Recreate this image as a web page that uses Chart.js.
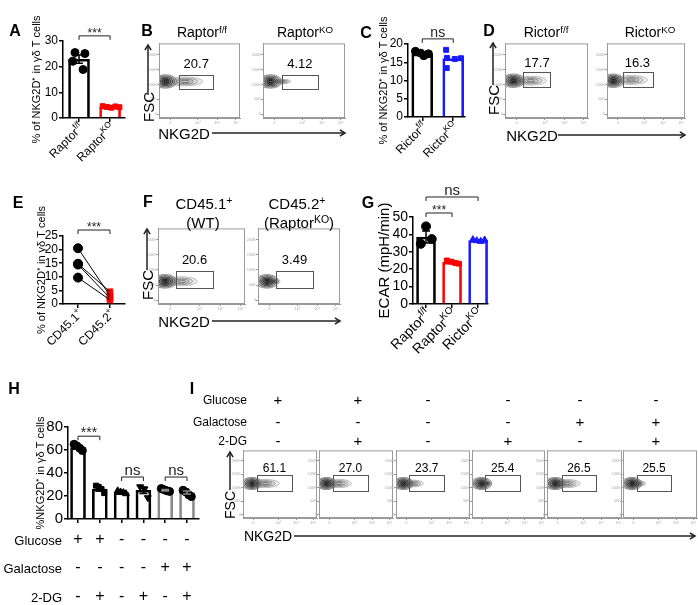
<!DOCTYPE html>
<html>
<head>
<meta charset="utf-8">
<script src="https://cdn.jsdelivr.net/npm/chart.js@4.4.1/dist/chart.umd.min.js"></script>
<style>
body { margin: 0; background: #fff; }
#fig { position: relative; width: 698px; height: 605px; overflow: hidden; font-family: 'Liberation Sans', Arial, sans-serif; color: #000; }
#fig canvas { position: absolute; }
.t { position: absolute; white-space: nowrap; line-height: 1; }
.t sup { font-size: 70%; vertical-align: 0.45em; line-height: 0; }
.l { font-weight: bold; }
#fig svg { position: absolute; left: 0; top: 0; }
</style>
</head>
<body>
<div id="fig"></div>
<script>
const FONT = "'Liberation Sans', Arial, sans-serif";
Chart.defaults.font.family = FONT;
Chart.defaults.color = '#000';
Chart.defaults.animation = false;

// ---------- A: NKG2D+ in Raptor f/f vs KO
const aCats = [0, 1];
const aLabels = [['Raptor', 'f/f'], ['Raptor', 'KO']];
const aMeans = [22.9, 4.3];
const aSem = [1.6, 0.3];
const aFlox = [25.5, 25.1, 22.1, 18.9];
const aFloxJit = [-0.13, 0.19, -0.2, 0.13];
const aKo = [4.6, 4.3, 4.0, 4.5, 4.2];
const aKoJit = [-0.24, -0.1, 0.04, 0.17, 0.3];

// ---------- C: Rictor
const cCats = [0, 1];
const cLabels = [['Rictor', 'f/f'], ['Rictor', 'KO']];
const cMeans = [17.3, 16.0];
const cFlox = [18.0, 17.5, 16.8, 17.3];
const cFloxJit = [-0.22, -0.05, 0.05, 0.2];
const cKo = [18.4, 16.2, 13.4, 15.9, 16.1];
const cKoJit = [-0.23, -0.2, -0.21, 0.05, 0.25];

// ---------- E: paired CD45.1 / CD45.2
const eCats = [0, 1];
const eLabels = [['CD45.1', '+'], ['CD45.2', '+']];
const eCd451 = [20.5, 14.8, 14.5, 9.7];
const eCd452 = [3.0, 4.5, 2.2, 1.5];

// ---------- G: ECAR
const gCats = [0, 1, 2];
const gLabels = [['Raptor', 'f/f'], ['Raptor', 'KO'], ['Rictor', 'KO']];
const gMeans = [38.5, 24.0, 36.5];
const gSem = [3.5, 0.6, 0.4];
const gFlox = [44.6, 37.3, 34.6];
const gFloxJit = [0, 0.22, -0.2];
const gRaptorKo = [25.0, 24.3, 23.6, 23.2];
const gRaptorKoJit = [-0.2, -0.02, 0.12, 0.26];
const gRictorKo = [37.0, 36.4, 36.0, 36.8];
const gRictorKoJit = [-0.2, -0.05, 0.1, 0.25];

// ---------- H: sugar conditions
const hCats = [0, 1, 2, 3, 4, 5];
const hMeans = [62, 26, 23, 25, 25, 23];
const hSem = [1.3, 1.6, 0.6, 2.8, 0.6, 1.3];
const hG1 = [65, 63.5, 61.5, 59.5];
const hG2 = [29, 28, 26, 22.5];
const hG3 = [24.5, 23.5, 23, 22];
const hG4 = [28, 26, 18.5];
const hG5 = [26.5, 25.5, 24.5, 24];
const hG6 = [25, 23.5, 21, 19.5];
const hJit4 = [-0.18, -0.05, 0.08, 0.2];
const hJit3 = [-0.15, 0.05, 0.2];
const hGlucose = ['+', '+', '-', '-', '-', '-'];
const hGalactose = ['-', '-', '-', '-', '+', '+'];
const h2dg = ['-', '+', '-', '+', '-', '+'];

// ---------- flow plots (axis units 0-100)
const flowXTicks = [14, 48, 72, 95];
const flowXTickText = ['0', '10³', '10⁴', '10⁵'];
const flowYTicks = [5, 25, 45, 65, 85];
const flowYTickText = ['0', '50K', '100K', '150K', '200K'];

const bValues = ['20.7', '4.12'];
const bCores = [[8, 49], [9, 49]];
const bTails = [[32, 49, 22, 6], [24, 49, 10, 3]];
const bGates = [[25, 67, 39, 58], [23, 67, 39, 58]];

const dValues = ['17.7', '16.3'];
const dCores = [[10, 50], [8, 50]];
const dTails = [[31, 50, 19, 6], [31, 51, 21, 6]];
const dGates = [[22, 55, 42, 62], [20, 58, 42, 62]];

const fValues = ['20.6', '3.49'];
const fCores = [[8, 30], [11, 30]];
const fTails = [[27, 30, 18, 6], [20, 30, 7, 3]];
const fGates = [[21, 63, 21, 43], [22, 67, 21, 43]];

const iValues = ['61.1', '27.0', '23.7', '25.4', '26.5', '25.5'];
const iCores = [[12, 51], [10, 51], [10, 51], [13, 51], [11, 51], [12, 51]];
const iTails = [[30, 51, 19, 6], [27, 51, 17, 6], [24, 51, 13, 5], [20, 51, 7, 3], [27, 51, 17, 6], [21, 51, 10, 4]];
const iGates = [[19, 66, 41, 64], [19, 66, 41, 64], [18, 65, 41, 64], [18, 66, 41, 64], [20, 65, 41, 64], [19, 65, 41, 64]];
const iGlucose = ['+', '+', '-', '-', '-', '-'];
const iGalactose = ['-', '-', '-', '-', '+', '+'];
const i2dg = ['-', '+', '-', '+', '-', '+'];

const fig = document.getElementById('fig');

function makeCanvas(left, top, w, h) {
  const c = document.createElement('canvas');
  c.width = w; c.height = h;
  c.style.left = left + 'px'; c.style.top = top + 'px';
  c.style.width = w + 'px'; c.style.height = h + 'px';
  fig.appendChild(c);
  return c;
}

function txt(html, x, y, size, cls, rot, align) {
  const d = document.createElement('div');
  d.className = 't ' + (cls || '');
  d.innerHTML = html;
  d.style.left = x + 'px'; d.style.top = y + 'px'; d.style.fontSize = size + 'px';
  let tr = align === 'right' ? 'translate(-100%,-50%)' : 'translate(-50%,-50%)';
  if (rot) tr += ' rotate(' + rot + 'deg)';
  d.style.transform = tr;
  fig.appendChild(d);
}

function pts(cat, jit, vals, style, color, r, rot) {
  return {
    type: 'scatter', order: 0,
    data: vals.map((v, i) => ({ x: cat + jit[i], y: v })),
    pointStyle: style, pointRadius: r, pointRotation: rot || 0,
    pointBackgroundColor: color, pointBorderColor: color, pointBorderWidth: 1
  };
}

function barSet(cats, means, colors, thick) {
  return {
    type: 'bar', order: 5,
    data: means.map((m, i) => ({ x: cats[i], y: m })),
    backgroundColor: 'rgba(255,255,255,0)', borderColor: colors,
    borderWidth: 2, barThickness: thick
  };
}

// error bars, significance brackets, rotated category labels, sign rows
function decor(d) {
  return {
    id: 'decor',
    afterDatasetsDraw(chart) {
      const ctx = chart.ctx, xs = chart.scales.x, ys = chart.scales.y, ca = chart.chartArea;
      ctx.save();
      if (d.sem) d.sem.forEach((s, i) => {
        const x = xs.getPixelForValue(d.cats[i]);
        const y1 = ys.getPixelForValue(d.means[i] - s), y2 = ys.getPixelForValue(d.means[i] + s);
        ctx.strokeStyle = d.colors[i]; ctx.lineWidth = 1.5;
        ctx.beginPath();
        ctx.moveTo(x, y1); ctx.lineTo(x, y2);
        ctx.moveTo(x - 4, y1); ctx.lineTo(x + 4, y1);
        ctx.moveTo(x - 4, y2); ctx.lineTo(x + 4, y2);
        ctx.stroke();
      });
      (d.brackets || []).forEach(b => {
        const x1 = xs.getPixelForValue(b[0]), x2 = xs.getPixelForValue(b[1]), y = ys.getPixelForValue(b[2]);
        ctx.strokeStyle = '#222'; ctx.lineWidth = 1;
        ctx.beginPath();
        ctx.moveTo(x1, y + 4); ctx.lineTo(x1, y); ctx.lineTo(x2, y); ctx.lineTo(x2, y + 4);
        ctx.stroke();
        ctx.fillStyle = '#222';
        ctx.font = (b[3] === 'ns' ? d.nsSize : d.starSize) + 'px ' + FONT;
        ctx.textAlign = 'center'; ctx.textBaseline = 'alphabetic';
        ctx.fillText(b[3], (x1 + x2) / 2, y - (b[3] === 'ns' ? 2 : -1));
      });
      (d.labels || []).forEach((lab, i) => {
        const x = xs.getPixelForValue(d.cats[i]);
        ctx.save();
        ctx.translate(x + 3, ca.bottom + 8);
        ctx.rotate(-Math.PI / 4);
        ctx.fillStyle = '#000'; ctx.textBaseline = 'middle'; ctx.textAlign = 'left';
        ctx.font = (d.labelSize * 0.7) + 'px ' + FONT;
        const ws = ctx.measureText(lab[1]).width;
        ctx.font = d.labelSize + 'px ' + FONT;
        const wm = ctx.measureText(lab[0]).width;
        ctx.fillText(lab[0], -wm - ws, 0);
        ctx.font = (d.labelSize * 0.7) + 'px ' + FONT;
        ctx.fillText(lab[1], -ws, -d.labelSize * 0.35);
        ctx.restore();
      });
      (d.rows || []).forEach(r => {
        ctx.fillStyle = '#000'; ctx.textBaseline = 'middle';
        ctx.font = d.rowNameSize + 'px ' + FONT; ctx.textAlign = 'right';
        ctx.fillText(r.name, d.rowNameX, r.y);
        ctx.font = d.signSize + 'px ' + FONT; ctx.textAlign = 'center';
        r.signs.forEach((s, i) => ctx.fillText(s, xs.getPixelForValue(d.cats[i]), r.y - 1));
      });
      ctx.restore();
    }
  };
}

// box: [left, top, w, h] canvas; area: [l, t, r, b] in page pixels
function panel(o) {
  const [L0, T0, W, H] = o.box;
  const c = makeCanvas(L0, T0, W, H);
  const axisLine = { color: '#000', width: 1.5 };
  return new Chart(c, {
    type: o.type || 'bar',
    data: { datasets: o.datasets },
    options: {
      responsive: false, animation: false,
      layout: { padding: { left: 0, top: o.area[1] - T0, right: W - (o.area[2] - L0), bottom: 0 } },
      plugins: { legend: { display: false }, tooltip: { enabled: false } },
      scales: {
        x: {
          type: 'linear', min: o.xMin, max: o.xMax, offset: false,
          afterBuildTicks: s => { s.ticks = o.cats.map(v => ({ value: v })); },
          afterFit: s => { s.height = H - (o.area[3] - T0); },
          ticks: { callback: () => '', autoSkip: false, maxRotation: 0 },
          grid: { offset: false, drawOnChartArea: false, tickLength: 4, color: '#000', lineWidth: 1.5 },
          border: axisLine
        },
        y: {
          min: 0, max: o.yMax,
          afterFit: s => { s.width = o.area[0] - L0; },
          ticks: { stepSize: o.yStep, autoSkip: false, font: { size: o.tickSize }, padding: 1, color: '#000' },
          title: { display: true, text: o.title, font: { size: o.titleSize }, padding: { top: o.titlePad, bottom: 0 }, color: '#000' },
          grid: { drawOnChartArea: false, tickLength: 4, color: '#000', lineWidth: 1.5 },
          border: axisLine
        }
      }
    },
    plugins: [decor(o.decor)]
  });
}

// A
panel({
  box: [0, 0, 135, 175], area: [63, 41, 125, 118],
  xMin: -0.516, xMax: 1.48, cats: aCats, yMax: 30, yStep: 10, tickSize: 12,
  title: '% of NKG2D⁺ in γδ T cells', titleSize: 11, titlePad: 30,
  datasets: [
    pts(0, aFloxJit, aFlox, 'circle', '#000', 4),
    pts(1, aKoJit, aKo, 'rect', '#f00', 3.5),
    barSet(aCats, aMeans, ['#000', '#f00'], 21)
  ],
  decor: { cats: aCats, means: aMeans, sem: aSem, colors: ['#000', '#f00'],
    brackets: [[0, 1, 32, '***']], starSize: 12, nsSize: 14, labels: aLabels, labelSize: 12 }
});

// C
panel({
  box: [335, 0, 135, 175], area: [408, 44, 466, 117],
  xMin: -0.46, xMax: 1.38, cats: cCats, yMax: 20, yStep: 5, tickSize: 12,
  title: '% of NKG2D⁺ in γδ T cells', titleSize: 11, titlePad: 42,
  datasets: [
    pts(0, cFloxJit, cFlox, 'circle', '#000', 4),
    pts(1, cKoJit, cKo, 'rect', '#1a1aff', 3.5),
    barSet(cCats, cMeans, ['#000', '#1a1aff'], 21)
  ],
  decor: { cats: cCats, brackets: [[0, 1, 21.4, 'ns']], starSize: 12, nsSize: 14, labels: cLabels, labelSize: 12 }
});

// E
const eLines = eCd451.map((v, i) => ({
  type: 'scatter', order: 1, showLine: true, borderColor: '#000', borderWidth: 1, pointRadius: 0,
  data: [{ x: 0, y: v }, { x: 1, y: eCd452[i] }]
}));
panel({
  type: 'scatter',
  box: [0, 180, 135, 185], area: [63, 236, 125, 304],
  xMin: -0.47, xMax: 1.47, cats: eCats, yMax: 25, yStep: 5, tickSize: 12,
  title: '% of NKG2D⁺ in γδ T cells', titleSize: 11, titlePad: 35,
  datasets: [
    pts(0, [0, 0, 0, 0], eCd451, 'circle', '#000', 4.5),
    ...eLines,
    Object.assign(pts(1, [0, 0, 0, 0], eCd452, 'rect', '#f00', 4), { order: 3 })
  ],
  decor: { cats: eCats, brackets: [[0, 1, 27.2, '***']], starSize: 12, nsSize: 14, labels: eLabels, labelSize: 12 }
});

// G
panel({
  box: [340, 180, 160, 185], area: [413, 217, 488, 304],
  xMin: -0.5, xMax: 2.38, cats: gCats, yMax: 50, yStep: 10, tickSize: 14,
  title: 'ECAR (mpH/min)', titleSize: 15, titlePad: 36,
  datasets: [
    pts(0, gFloxJit, gFlox, 'circle', '#000', 4.5),
    pts(1, gRaptorKoJit, gRaptorKo, 'rect', '#f00', 3.5),
    pts(2, gRictorKoJit, gRictorKo, 'triangle', '#1a1aff', 4),
    barSet(gCats, gMeans, ['#000', '#f00', '#1a1aff'], 19)
  ],
  decor: { cats: gCats, means: gMeans, sem: gSem, colors: ['#000', '#f00', '#1a1aff'],
    brackets: [[0, 1, 52.3, '***'], [0, 2, 61.5, 'ns']], starSize: 12, nsSize: 15, labels: gLabels, labelSize: 14 }
});

// H
const hColors = ['#000', '#000', '#000', '#000', '#8a8a8a', '#8a8a8a'];
panel({
  box: [0, 380, 240, 225], area: [68, 427, 199, 519],
  xMin: -0.46, xMax: 5.55, cats: hCats, yMax: 80, yStep: 20, tickSize: 15,
  title: '%NKG2D⁺ in γδ T cells', titleSize: 11, titlePad: 34,
  datasets: [
    pts(0, hJit4, hG1, 'circle', '#000', 4),
    pts(1, hJit4, hG2, 'rect', '#000', 3.5),
    pts(2, hJit4, hG3, 'triangle', '#000', 4),
    pts(3, hJit3, hG4, 'triangle', '#000', 4, 180),
    pts(4, hJit4, hG5, 'circle', '#000', 4),
    pts(5, hJit4, hG6, 'circle', '#000', 4),
    barSet(hCats, hMeans, hColors, 15)
  ],
  decor: { cats: hCats, means: hMeans, sem: hSem, colors: hColors,
    brackets: [[0, 1, 72, '***'], [2, 3, 36.5, 'ns'], [4, 5, 36.5, 'ns']], starSize: 14, nsSize: 15,
    rows: [
      { name: 'Glucose', signs: hGlucose, y: 161 },
      { name: 'Galactose', signs: hGalactose, y: 189 },
      { name: '2-DG', signs: h2dg, y: 218 }
    ], rowNameX: 62, rowNameSize: 13, signSize: 16 }
});

// ---------- flow plots
function rings(ctx, xs, ys, e, ks, shades, fill) {
  const px = xs.getPixelForValue(e[0]), py = ys.getPixelForValue(e[1]);
  const rx = xs.getPixelForValue(e[0] + e[2]) - px, ry = py - ys.getPixelForValue(e[1] + e[3]);
  ks.forEach((k, i) => {
    ctx.beginPath();
    ctx.ellipse(px, py, rx * k, ry * k, 0, 0, Math.PI * 2);
    ctx.fillStyle = fill; ctx.fill();
    ctx.strokeStyle = shades[i]; ctx.lineWidth = 1; ctx.stroke();
  });
}

function flow(box, core, tail, gate, value, numSize, gap) {
  const [l, t, r, b] = box;
  const W = r - l + 13, H = b - t + 12;
  const c = makeCanvas(l - 11, t - 1, W, H);
  const tinyAxis = (vals, text, fit) => ({
    min: 0, max: 100,
    afterBuildTicks: s => { s.ticks = vals.map(v => ({ value: v })); },
    afterFit: fit,
    ticks: { callback: (v, i) => text[i], font: { size: 4 }, color: '#aaa', padding: 0, autoSkip: false, maxRotation: 0 },
    grid: { drawOnChartArea: false, tickLength: 2, color: '#999', lineWidth: 1 },
    border: { color: '#999', width: 1 }
  });
  new Chart(c, {
    type: 'scatter',
    data: { datasets: [{ data: [{ x: core[0], y: core[1] }], pointRadius: 0 }] },
    options: {
      responsive: false, animation: false,
      layout: { padding: { left: 0, top: 1, right: 2, bottom: 0 } },
      plugins: { legend: { display: false }, tooltip: { enabled: false } },
      scales: {
        x: tinyAxis(flowXTicks, flowXTickText, s => { s.height = 11; }),
        y: tinyAxis(flowYTicks, flowYTickText, s => { s.width = 11; })
      }
    },
    plugins: [{
      id: 'flowDecor',
      afterDatasetsDraw(chart) {
        const ctx = chart.ctx, xs = chart.scales.x, ys = chart.scales.y, ca = chart.chartArea;
        ctx.save();
        ctx.beginPath(); ctx.rect(ca.left, ca.top, ca.width, ca.height); ctx.clip();
        if (tail) rings(ctx, xs, ys, tail, [1, 0.72, 0.48, 0.26], ['#bdbdbd', '#9c9c9c', '#858585', '#777'], 'rgba(0,0,0,0.07)');
        rings(ctx, xs, ys, [core[0], core[1], 14, 9], [1, 0.82, 0.64, 0.47, 0.3, 0.15],
          ['#8a8a8a', '#6a6a6a', '#4c4c4c', '#353535', '#222', '#111'], 'rgba(0,0,0,0.15)');
        ctx.restore();
        ctx.save();
        ctx.strokeStyle = '#9a9a9a'; ctx.lineWidth = 1;
        ctx.strokeRect(ca.left + 0.5, ca.top + 0.5, ca.width - 1, ca.height - 1);
        const gx1 = xs.getPixelForValue(gate[0]), gx2 = xs.getPixelForValue(gate[1]);
        const gy1 = ys.getPixelForValue(gate[3]), gy2 = ys.getPixelForValue(gate[2]);
        ctx.strokeStyle = '#555';
        ctx.strokeRect(Math.round(gx1) + 0.5, Math.round(gy1) + 0.5, Math.round(gx2 - gx1), Math.round(gy2 - gy1));
        ctx.fillStyle = '#000'; ctx.font = numSize + 'px ' + FONT;
        ctx.textAlign = 'center'; ctx.textBaseline = 'bottom';
        ctx.fillText(value, (gx1 + gx2) / 2, gy1 - gap);
        ctx.restore();
      }
    }]
  });
}

const bBoxes = [[159, 42, 240, 118], [263, 42, 345, 118]];
const dBoxes = [[505, 42, 588, 118], [607, 42, 685, 118]];
const fBoxes = [[158, 227, 245, 304], [258, 227, 340, 304]];
const iBoxes = [[243, 449, 317, 518], [319, 449, 393, 518], [396, 449, 470, 518], [472, 449, 545, 518], [547, 449, 622, 518], [623, 449, 697, 518]];
bBoxes.forEach((bx, i) => flow(bx, bCores[i], bTails[i], bGates[i], bValues[i], 13, 4));
dBoxes.forEach((bx, i) => flow(bx, dCores[i], dTails[i], dGates[i], dValues[i], 13, 2));
fBoxes.forEach((bx, i) => flow(bx, fCores[i], fTails[i], fGates[i], fValues[i], 13, 5));
iBoxes.forEach((bx, i) => flow(bx, iCores[i], iTails[i], iGates[i], iValues[i], 12, 0));

// ---------- text
[['A', 15, 31], ['B', 147, 31], ['C', 366, 33], ['D', 489, 31], ['E', 18, 203],
 ['F', 148, 202], ['G', 368, 203], ['H', 14, 389], ['I', 192, 389]]
  .forEach(p => txt(p[0], p[1], p[2], 16, 'l'));

txt('Raptor<sup>f/f</sup>', 202, 32, 14);
txt('Raptor<sup>KO</sup>', 305, 32, 14);
txt('Rictor<sup>f/f</sup>', 546, 32, 14);
txt('Rictor<sup>KO</sup>', 650, 32, 14);
txt('CD45.1<sup>+</sup>', 204, 203, 15);
txt('(WT)', 203, 222, 15);
txt('CD45.2<sup>+</sup>', 297, 203, 15);
txt('(Raptor<sup>KO</sup>)', 299, 222, 15);

txt('FSC', 148, 107, 15, '', -90);
txt('FSC', 493, 100, 15, '', -90);
txt('FSC', 147, 285, 15, '', -90);
txt('FSC', 230, 505, 14, '', -90);
txt('NKG2D', 184, 133, 15);
txt('NKG2D', 532, 135, 15);
txt('NKG2D', 184, 321, 15);
txt('NKG2D', 268, 536, 14);

const iCols = [278, 358, 428, 508, 580, 656];
[['Glucose', iGlucose, 400], ['Galactose', iGalactose, 422], ['2-DG', i2dg, 441]].forEach(r => {
  txt(r[0], 247, r[2], 12, '', 0, 'right');
  r[1].forEach((s, i) => txt(s, iCols[i], r[2] - 1, 15));
});

// ---------- axis arrows
const arrows = [
  [148, 95, 148, 45], [493, 85, 493, 43], [147, 270, 147, 229], [230, 490, 230, 452],
  [212, 133, 345, 133], [558, 135, 685, 135], [212, 321, 340, 321], [294, 536, 695, 536]
];
let svg = '<svg width="698" height="605" xmlns="http://www.w3.org/2000/svg">';
arrows.forEach(a => {
  const ang = Math.atan2(a[3] - a[1], a[2] - a[0]);
  const hx1 = a[2] - 6 * Math.cos(ang - 0.55), hy1 = a[3] - 6 * Math.sin(ang - 0.55);
  const hx2 = a[2] - 6 * Math.cos(ang + 0.55), hy2 = a[3] - 6 * Math.sin(ang + 0.55);
  svg += `<line x1="${a[0]}" y1="${a[1]}" x2="${a[2]}" y2="${a[3]}" stroke="#222" stroke-width="1.5"/>`;
  svg += `<polyline points="${hx1},${hy1} ${a[2]},${a[3]} ${hx2},${hy2}" fill="none" stroke="#222" stroke-width="1.5"/>`;
});
svg += '</svg>';
fig.insertAdjacentHTML('beforeend', svg);
</script>
</body>
</html>
